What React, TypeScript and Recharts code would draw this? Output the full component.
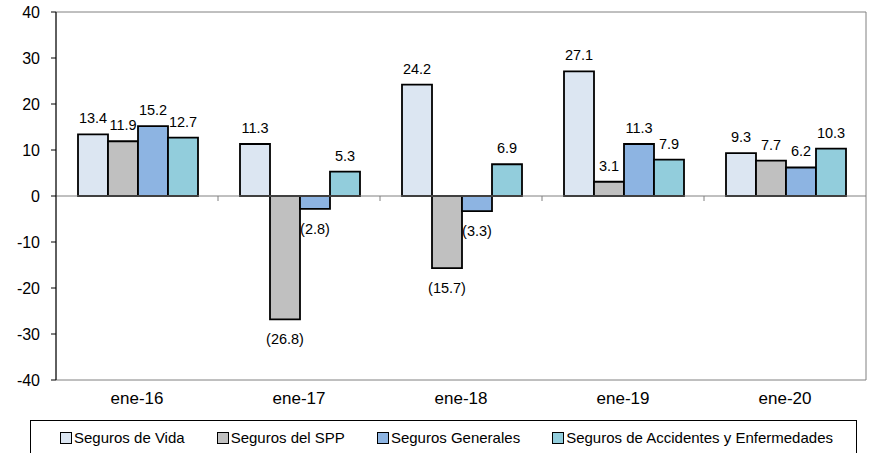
import { BarChart, Bar, XAxis, YAxis, ReferenceLine, ReferenceArea, LabelList } from "recharts";

const categories = ["ene-16", "ene-17", "ene-18", "ene-19", "ene-20"];
const vida = [13.4, 11.3, 24.2, 27.1, 9.3];
const spp = [11.9, -26.8, -15.7, 3.1, 7.7];
const generales = [15.2, -2.8, -3.3, 11.3, 6.2];
const accidentes = [12.7, 5.3, 6.9, 7.9, 10.3];
const yTicks = [-40, -30, -20, -10, 0, 10, 20, 30, 40];

const series = [
  { key: "vida", name: "Seguros de Vida", color: "#DCE6F2" },
  { key: "spp", name: "Seguros del SPP", color: "#C0C0C0" },
  { key: "generales", name: "Seguros Generales", color: "#8DB4E2" },
  { key: "accidentes", name: "Seguros de Accidentes y Enfermedades", color: "#92CDDC" },
];

const data = categories.map((c, i) => ({
  cat: c,
  vida: vida[i],
  spp: spp[i],
  generales: generales[i],
  accidentes: accidentes[i],
}));

const font = "Arial, 'Liberation Sans', sans-serif";

function ValueLabel(props: any) {
  const { x, y, width, height, value } = props;
  const top = Math.min(y, y + height);
  const bottom = Math.max(y, y + height);
  const neg = value < 0;
  const txt = neg ? `(${Math.abs(value).toFixed(1)})` : value.toFixed(1);
  return (
    <text
      x={x + width / 2}
      y={neg ? bottom + 25 : top - 11}
      textAnchor="middle"
      fontSize={14.5}
      fontFamily={font}
      fill="#000"
    >
      {txt}
    </text>
  );
}

// zero line with small tick marks between categories
function ZeroLine(props: any) {
  const { x1, y1, x2 } = props;
  const step = (x2 - x1) / categories.length;
  return (
    <g>
      <line x1={x1} y1={y1} x2={x2} y2={y1} stroke="#808080" strokeWidth={1} />
      {categories.slice(1).map((c, i) => (
        <line key={c} x1={x1 + step * (i + 1)} y1={y1} x2={x1 + step * (i + 1)} y2={y1 + 5} stroke="#808080" />
      ))}
    </g>
  );
}

export default function App() {
  return (
    <div style={{ position: "absolute", left: 0, top: 0, width: 872, height: 453, background: "#fff", overflow: "hidden" }}>
      <BarChart
        width={872}
        height={453}
        data={data}
        margin={{ top: 12, right: 6, left: 0, bottom: 43 }}
        barCategoryGap={22}
        barGap={0}
      >
        <ReferenceArea y1={-40} y2={40} fill="none" stroke="#808080" strokeWidth={1} />
        <XAxis
          dataKey="cat"
          axisLine={false}
          tickLine={false}
          height={30}
          tick={{ fontSize: 17, fontFamily: font, fill: "#000" }}
          tickMargin={6}
        />
        <YAxis
          domain={[-40, 40]}
          ticks={yTicks}
          width={56}
          axisLine={{ stroke: "#000" }}
          tickLine={{ stroke: "#000" }}
          tickSize={5}
          tickMargin={11}
          tick={{ fontSize: 16, fontFamily: font, fill: "#000" }}
          interval={0}
        />
        <ReferenceLine y={0} shape={<ZeroLine />} />
        {series.map((s) => (
          <Bar key={s.key} dataKey={s.key} name={s.name} fill={s.color} stroke="#000" strokeWidth={1.8} isAnimationActive={false}>
            <LabelList dataKey={s.key} content={<ValueLabel />} />
          </Bar>
        ))}
      </BarChart>
      <div
        style={{
          position: "absolute",
          left: 30,
          top: 420,
          width: 827,
          height: 40,
          border: "1px solid #000",
          boxSizing: "border-box",
          fontFamily: font,
          fontSize: 15,
          display: "flex",
          alignItems: "flex-start",
          paddingTop: 8,
          paddingLeft: 29,
        }}
      >
        {series.map((s, i) => (
          <div key={s.key} style={{ display: "flex", alignItems: "center", marginLeft: i === 0 ? 0 : 32 }}>
            <span
              style={{
                display: "inline-block",
                width: 10,
                height: 10,
                background: s.color,
                border: "1.5px solid #000",
                marginRight: 2,
              }}
            />
            <span>{s.name}</span>
          </div>
        ))}
      </div>
    </div>
  );
}
